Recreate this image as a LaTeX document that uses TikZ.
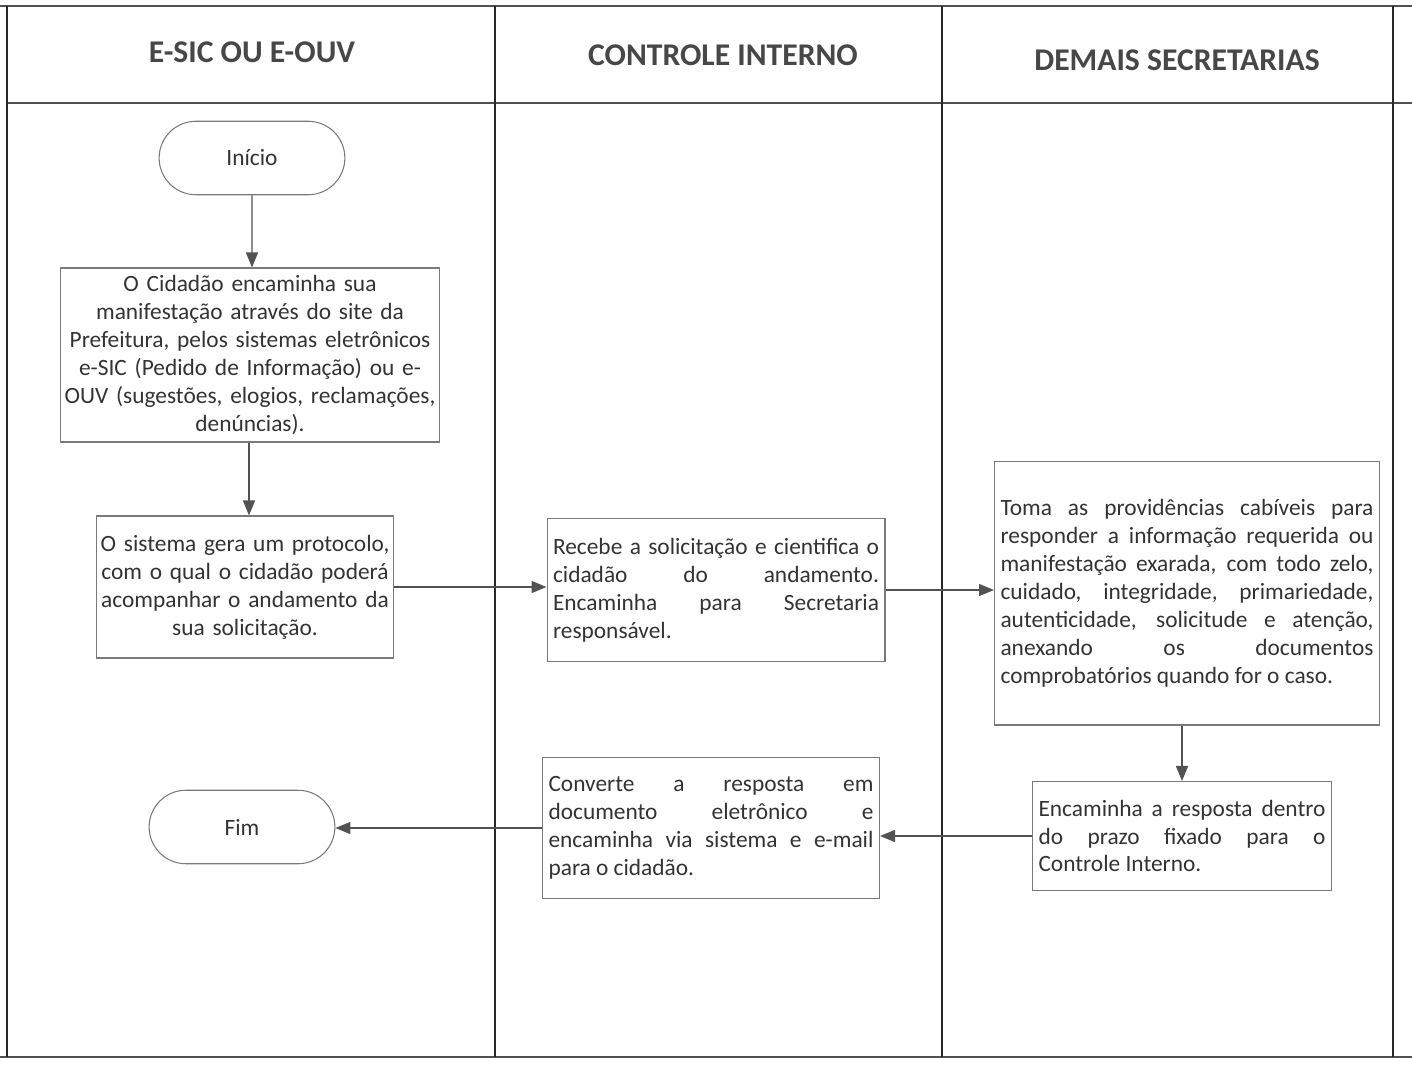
\documentclass[tikz,border=0pt]{standalone}
\usepackage{fontspec}
\setmainfont{Carlito}
\usetikzlibrary{arrows.meta,shapes.misc}

\definecolor{lanecol}{HTML}{262626}
\definecolor{boxcol}{HTML}{7A7A7A}
\definecolor{inkcol}{HTML}{333333}

\begin{document}
\begin{tikzpicture}[x=0.02cm, y=-0.02cm,
    lane/.style={draw=lanecol, line width=0.9pt},
    band/.style={draw=lanecol!80, line width=1.4pt},
    head/.style={font=\fontsize{18}{21}\selectfont\bfseries, text=inkcol!90},
    terminal/.style={rounded rectangle, draw=boxcol, line width=0.6pt, text=inkcol,
        minimum width=3.95cm, minimum height=1.47cm, font=\fontsize{13.3}{16}\selectfont},
    procbox/.style={draw=boxcol, line width=0.6pt, text=inkcol, inner xsep=0.12cm,
        font=\fontsize{13.3}{15.9}\selectfont},
    flow/.style={draw=inkcol!85, line width=0.8pt, -{Triangle[length=0.3cm, width=0.24cm]}}
  ]
    \useasboundingbox (0,0) rectangle (1412,1067);

    % lanes
    \draw [band] (0,6) -- (1412,6);
    \draw [band] (7,103) -- (1412,103);
    \draw [band] (0,1057) -- (1412,1057);
    \foreach \x in {7,495,942,1393} {
        \draw [lane] (\x,6) -- (\x,1057);
    }
    \node [head] (h1) at (252,52) {E-SIC OU E-OUV};
    \node [head] (h2) at (723,55) {CONTROLE INTERNO};
    \node [head] (h3) at (1177,60) {DEMAIS SECRETARIAS};

    % left lane
    \node [terminal] (inicio) at (252,158) {Início};
    \node [procbox, inner xsep=0.04cm, text width=7.52cm, minimum height=3.48cm, align=center] (cidadao) at (250,355)
        {O Cidadão encaminha sua\\ manifestação através do site da\\ Prefeitura, pelos sistemas eletrônicos\\
         e-SIC (Pedido de Informação) ou e-\\ OUV (sugestões, elogios, reclamações,\\ denúncias).};
    \node [procbox, inner xsep=0.03cm, text width=5.88cm, minimum height=2.84cm, align=center] (protocolo) at (245,587)
        {O sistema gera um protocolo,\\ com o qual o cidadão poderá\\ acompanhar o andamento da\\ sua solicitação.};
    \node [terminal] (fim) at (242,827) {Fim};

    % middle lane
    \node [procbox, text width=6.52cm, minimum height=2.86cm, align=justify] (recebe) at (716,590)
        {Recebe a solicitação e cientifica o\linebreak cidadão do andamento.\linebreak
         Encaminha para Secretaria\linebreak responsável.};
    \node [procbox, text width=6.5cm, minimum height=2.82cm, align=justify] (converte) at (711,828)
        {Converte a resposta em\linebreak documento eletrônico e\linebreak
         encaminha via sistema e e-mail\linebreak para o cidadão.};

    % right lane
    \node [procbox, text width=7.46cm, minimum height=5.28cm, align=justify] (toma) at (1187,593)
        {Toma as providências cabíveis para\linebreak responder a informação requerida ou\linebreak
         manifestação exarada, com todo zelo,\linebreak cuidado, integridade, primariedade,\linebreak
         autenticidade, solicitude e atenção,\linebreak anexando os documentos\linebreak
         comprobatórios quando for o caso.};
    \node [procbox, text width=5.74cm, minimum height=2.18cm, align=justify] (resposta) at (1182,836)
        {Encaminha a resposta dentro\linebreak do prazo fixado para o\linebreak Controle Interno.};

    % connectors
    \draw [flow] (inicio) -- (inicio |- cidadao.north);
    \draw [flow] (cidadao.south -| 249,0) -- (protocolo.north -| 249,0);
    \draw [flow] (protocolo.east) -- (recebe.west |- protocolo.east);
    \draw [flow] (recebe.east) -- (toma.west |- recebe.east);
    \draw [flow] (toma.south -| resposta.north) -- (resposta.north);
    \draw [flow] (resposta.west) -- (converte.east |- resposta.west);
    \draw [flow] (converte.west) -- (fim.east |- converte.west);
\end{tikzpicture}
\end{document}
